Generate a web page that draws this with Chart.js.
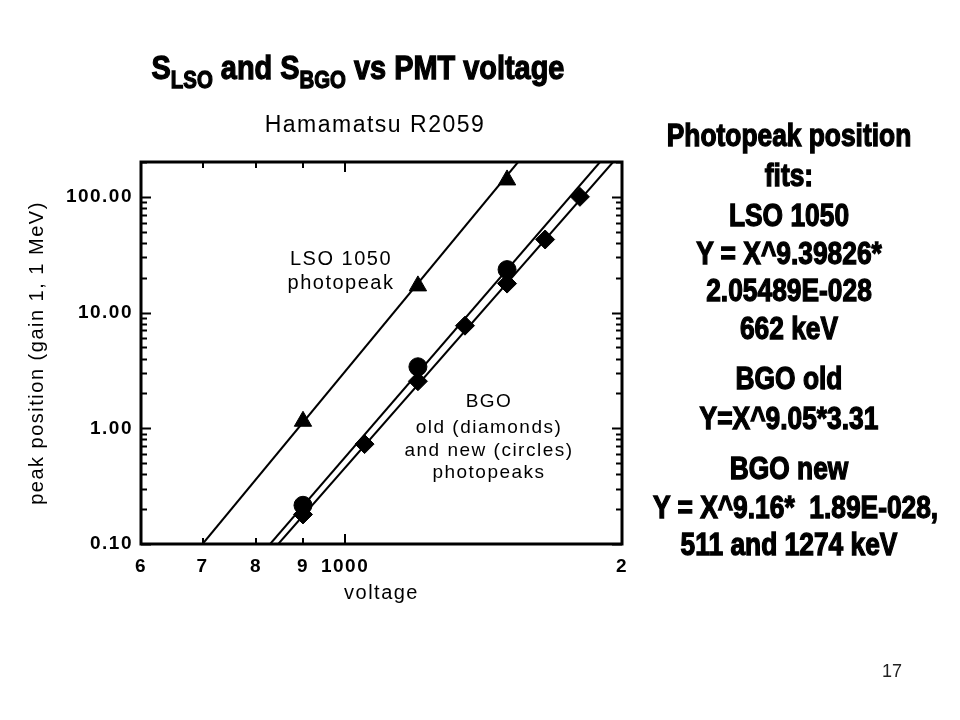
<!DOCTYPE html>
<html>
<head>
<meta charset="utf-8">
<script src="https://cdn.jsdelivr.net/npm/chart.js@4.4.0/dist/chart.umd.min.js"></script>
<style>
  body { margin: 0; background: #fff; }
  #wrap { position: relative; width: 960px; height: 720px; overflow: hidden; }
  #c { position: absolute; left: 0; top: 0; }
  .impact { position: absolute; font-family: 'Liberation Sans', Arial, sans-serif; font-weight: bold; color: #000;
            -webkit-text-stroke: 1.3px #000; white-space: pre; text-align: center; }
  #title { left: 0; width: 716px; top: 50px; font-size: 34px; line-height: 34px; transform: scaleX(0.85); }
  #title sub { font-size: 24px; position: relative; top: 9px; vertical-align: baseline; }
  .fit { left: 629px; width: 320px; font-size: 31px; line-height: 30px; transform: scaleX(0.85); }
  #page { position: absolute; left: 872px; top: 662px; width: 40px; text-align: center;
          font: 18px 'Liberation Sans', Arial, sans-serif; line-height: 18px; color: #222; }
</style>
</head>
<body>
<div id="wrap">
  <canvas id="c" width="960" height="720"></canvas>
  <div id="title" class="impact">S<sub>LSO</sub> and S<sub>BGO</sub> vs PMT voltage</div>
  <div class="impact fit" style="top:121px">Photopeak position</div>
  <div class="impact fit" style="top:161px">fits:</div>
  <div class="impact fit" style="top:201px">LSO 1050</div>
  <div class="impact fit" style="top:239px">Y = X^9.39826*</div>
  <div class="impact fit" style="top:276px">2.05489E-028</div>
  <div class="impact fit" style="top:314px">662 keV</div>
  <div class="impact fit" style="top:364px">BGO old</div>
  <div class="impact fit" style="top:404px">Y=X^9.05*3.31</div>
  <div class="impact fit" style="top:454px">BGO new</div>
  <div class="impact fit" style="top:493px">Y = X^9.16*  1.89E-028,</div>
  <div class="impact fit" style="top:530px">511 and 1274 keV</div>
  <div id="page">17</div>
</div>
<script>
// measured photopeak positions
const lsoVoltage = [900, 1200, 1500];
const lsoPeak = [1.15, 17, 140];
const bgoNewVoltage = [900, 1200, 1500];
const bgoNewPeak = [0.216, 3.4, 23.5];
const bgoOldVoltage = [900, 1050, 1200, 1350, 1500, 1650, 1800];
const bgoOldPeak = [0.18, 0.73, 2.55, 7.7, 17.8, 42.8, 100];

// fit lines, end points where they leave the frame
const lsoFitVoltage = [700, 1542];
const lsoFitPeak = [0.1, 200];
const bgoNewFitVoltage = [829, 1893];
const bgoNewFitPeak = [0.1, 200];
const bgoOldFitVoltage = [846, 1956];
const bgoOldFitPeak = [0.1, 200];

const xTickValues = [600, 700, 800, 900, 1000, 2000];
const xTickLabels = ['6', '7', '8', '9', '1000', '2'];
const yTickValues = [0.1, 1, 10, 100];
const yTickLabels = ['0.10', '1.00', '10.00', '100.00'];

const FONT = "'Liberation Sans', Arial, sans-serif";
Chart.defaults.font.family = FONT;
Chart.defaults.color = '#000';

const pairs = (xs, ys) => xs.map((x, i) => ({ x: x, y: ys[i] }));

// spaced-out lettering like the original slide
const spacing = {
    id: 'spacing',
    beforeDraw(chart) { chart.ctx.letterSpacing = '1.5px'; }
};

// frame with inward ticks on all four sides
const frameTicks = {
    id: 'frameTicks',
    afterDatasetsDraw(chart) {
        const { ctx, chartArea: a, scales } = chart;
        const sx = scales.x, sy = scales.y;
        ctx.save();
        ctx.strokeStyle = '#000';
        ctx.lineWidth = 2;
        ctx.beginPath();
        yTickValues.forEach(d => {
            for (let m = 1; m <= 9; m++) {
                const v = d * m;
                if (v > sy.max) break;
                const py = Math.round(sy.getPixelForValue(v)) + 0.5;
                const len = m === 1 ? 10 : 6;
                ctx.moveTo(a.left, py); ctx.lineTo(a.left + len, py);
                ctx.moveTo(a.right, py); ctx.lineTo(a.right - len, py);
            }
        });
        xTickValues.slice(1, -1).forEach(v => {
            const px = Math.round(sx.getPixelForValue(v));
            const len = v === 1000 ? 10 : 6;
            ctx.moveTo(px, a.bottom); ctx.lineTo(px, a.bottom - len);
            ctx.moveTo(px, a.top); ctx.lineTo(px, a.top + len);
        });
        ctx.stroke();
        ctx.lineWidth = 3;
        ctx.strokeRect(a.left, a.top, a.right - a.left, a.bottom - a.top);
        ctx.restore();
    }
};

// text inside and above the plot
const notes = {
    id: 'notes',
    afterDraw(chart) {
        const ctx = chart.ctx;
        ctx.save();
        ctx.fillStyle = '#000';
        ctx.textAlign = 'center';
        ctx.textBaseline = 'middle';
        ctx.letterSpacing = '1.5px';
        ctx.font = '23px ' + FONT;
        ctx.fillText('Hamamatsu R2059', 375, 126);
        ctx.font = '20px ' + FONT;
        ctx.fillText('LSO 1050', 341, 259);
        ctx.fillText('photopeak', 341, 283);
        ctx.font = '19px ' + FONT;
        ctx.fillText('BGO', 489, 402);
        ctx.fillText('old (diamonds)', 489, 428);
        ctx.fillText('and new (circles)', 489, 451);
        ctx.fillText('photopeaks', 489, 473);
        ctx.restore();
    }
};

const lineSet = (label, xs, ys) => ({
    label: label, data: pairs(xs, ys), showLine: true,
    borderColor: '#000', borderWidth: 2, pointRadius: 0
});
const markSet = (label, xs, ys, style, r) => ({
    label: label, data: pairs(xs, ys), pointStyle: style, pointRadius: r,
    backgroundColor: '#000', borderColor: '#000', borderWidth: 1
});

new Chart(document.getElementById('c'), {
    type: 'scatter',
    data: {
        datasets: [
            markSet('LSO 1050', lsoVoltage, lsoPeak, 'triangle', 10),
            markSet('BGO new', bgoNewVoltage, bgoNewPeak, 'circle', 9),
            markSet('BGO old', bgoOldVoltage, bgoOldPeak, 'rectRot', 9.5),
            lineSet('LSO fit', lsoFitVoltage, lsoFitPeak),
            lineSet('BGO new fit', bgoNewFitVoltage, bgoNewFitPeak),
            lineSet('BGO old fit', bgoOldFitVoltage, bgoOldFitPeak)
        ]
    },
    options: {
        responsive: false,
        animation: false,
        devicePixelRatio: 1,
        layout: { padding: { left: 0, top: 162, right: 338, bottom: 0 } },
        plugins: { legend: { display: false }, tooltip: { enabled: false } },
        scales: {
            x: {
                type: 'logarithmic', min: 600, max: 2000,
                afterFit: s => { s.height = 176; },
                afterBuildTicks: s => { s.ticks = xTickValues.map(v => ({ value: v })); },
                ticks: {
                    callback: (v, i) => xTickLabels[i],
                    font: { size: 19, weight: 'bold' }, padding: 11,
                    maxRotation: 0, autoSkip: false
                },
                grid: { display: false, drawTicks: false },
                border: { display: false },
                title: { display: true, text: 'voltage', font: { size: 20 }, padding: { top: 0, bottom: 115 } }
            },
            y: {
                type: 'logarithmic', min: 0.1, max: 200,
                afterFit: s => { s.width = 141; },
                afterBuildTicks: s => { s.ticks = yTickValues.map(v => ({ value: v })); },
                ticks: {
                    callback: (v, i) => yTickLabels[i],
                    font: { size: 19, weight: 'bold' }, padding: 8, autoSkip: false
                },
                grid: { display: false, drawTicks: false },
                border: { display: false },
                title: { display: true, text: 'peak position (gain 1, 1 MeV)', font: { size: 20 }, padding: { top: 25, bottom: 0 } }
            }
        }
    },
    plugins: [spacing, frameTicks, notes]
});
</script>
</body>
</html>
